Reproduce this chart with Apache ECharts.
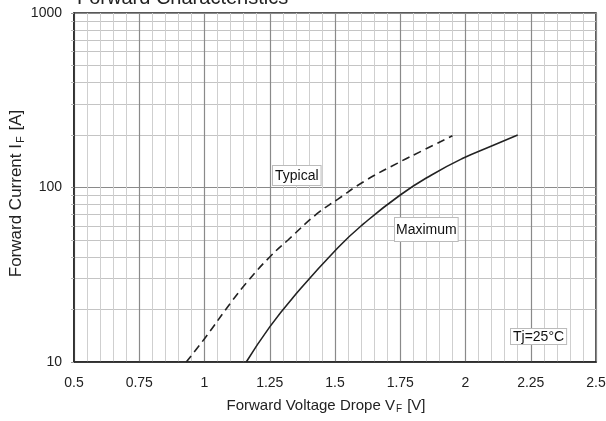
<!DOCTYPE html>
<html>
<head>
<meta charset="utf-8">
<script src="https://cdn.jsdelivr.net/npm/echarts@6/dist/echarts.min.js"></script>
<style>
html,body{margin:0;padding:0;background:#fff;}
#main{width:606px;height:421px;}
</style>
</head>
<body>
<div id="main"></div>
<script>
var titleText = 'Forward Characteristics';
var xName = 'Forward Voltage Drope V{sub|F} [V]';
var yName = 'Forward Current I{sub|F} [A]';
var xMin = 0.5, xMax = 2.5, xStep = 0.25;
var yMin = 10, yMax = 1000;

var typicalVf = [0.93, 1.0, 1.1, 1.17, 1.25, 1.32, 1.43, 1.51, 1.61, 1.74, 1.84, 1.95];
var typicalIf = [10, 13.6, 21.8, 29.5, 40, 50, 70.5, 85.5, 108, 138, 164, 198];

var maximumVf = [1.16, 1.25, 1.34, 1.51, 1.61, 1.75, 1.87, 1.99, 2.1, 2.2];
var maximumIf = [10, 15.9, 23.5, 45, 62, 90.6, 118, 147, 173, 200];

var labelTypical = 'Typical';
var labelMaximum = 'Maximum';
var labelTj = 'Tj=25°C';

function pairs(xs, ys) { return xs.map(function (x, i) { return [x, ys[i]]; }); }

var chart = echarts.init(document.getElementById('main'));
var font = 'Liberation Sans, Arial, sans-serif';

chart.setOption({
  animation: false,
  backgroundColor: '#fff',
  title: {
    text: titleText, left: 72, top: -17,
    textStyle: { fontSize: 20, fontWeight: 'normal', color: '#222', fontFamily: font }
  },
  grid: { left: 74, right: 10, top: 13, bottom: 59, outerBoundsMode: 'none', containLabel: false,
    show: true, borderColor: '#222', borderWidth: 1.5, backgroundColor: 'transparent' },
  xAxis: {
    type: 'value', min: xMin, max: xMax, interval: xStep,
    name: xName, nameLocation: 'middle', nameGap: 35, nameMoveOverlap: false,
    nameTextStyle: { fontSize: 15, color: '#222', fontFamily: font, padding: [0, 18, 0, 0],
      rich: { sub: { fontSize: 10, fontFamily: font, color: '#222', padding: [7, 1, 0, 1] } } },
    axisLine: { show: true, lineStyle: { color: '#222', width: 1.5 } },
    axisTick: { show: false },
    axisLabel: { fontSize: 14, color: '#222', fontFamily: font, margin: 14 },
    splitLine: { show: true, lineStyle: { color: '#8a8a8a', width: 1.2 } },
    minorTick: { show: false, splitNumber: 5 },
    minorSplitLine: { show: true, lineStyle: { color: '#cfcfcf', width: 1 } }
  },
  yAxis: {
    type: 'log', logBase: 10, min: yMin, max: yMax,
    name: yName, nameLocation: 'middle', nameGap: 48, nameRotate: 90, nameMoveOverlap: false,
    nameTextStyle: { fontSize: 17, color: '#222', fontFamily: font, padding: [0, 12, 0, 0],
      rich: { sub: { fontSize: 11, fontFamily: font, color: '#222', padding: [8, 1, 0, 1] } } },
    axisLine: { show: true, lineStyle: { color: '#222', width: 1.5 } },
    axisTick: { show: true, length: 3, lineStyle: { color: '#999' } },
    axisLabel: { fontSize: 14, color: '#222', fontFamily: font, margin: 12,
      formatter: function (v) { return String(v); } },
    splitLine: { show: true, lineStyle: { color: '#8a8a8a', width: 1.2 } },
    minorTick: { show: true, splitNumber: 9, length: 3, lineStyle: { color: '#bbb' } },
    minorSplitLine: { show: true, lineStyle: { color: '#c4c4c4', width: 1 } }
  },
  series: [
    {
      name: labelTypical, type: 'line', data: pairs(typicalVf, typicalIf),
      showSymbol: false, symbol: 'none', smooth: 0.5, z: 5,
      lineStyle: { color: '#222', width: 1.6, type: [8, 5] }
    },
    {
      name: labelMaximum, type: 'line', data: pairs(maximumVf, maximumIf),
      showSymbol: false, symbol: 'none', smooth: 0.5, z: 5,
      lineStyle: { color: '#222', width: 1.6, type: 'solid' }
    }
  ],
  graphic: [
    { type: 'text', left: 272, top: 165, z: 100,
      style: { text: labelTypical, font: '14px ' + font, fill: '#111', backgroundColor: '#fff', borderColor: '#bbb', borderWidth: 1, padding: [3, 2, 2, 2] } },
    { type: 'text', left: 394, top: 217, z: 100,
      style: { text: labelMaximum, font: '14px ' + font, fill: '#111', backgroundColor: '#fff', borderColor: '#bbb', borderWidth: 1, padding: [5, 1, 4, 1] } },
    { type: 'text', left: 510, top: 328, z: 100,
      style: { text: labelTj, font: '14px ' + font, fill: '#111', backgroundColor: '#fff', borderColor: '#bbb', borderWidth: 1, padding: [1, 2, 0, 2] } }
  ]
});
</script>
</body>
</html>
